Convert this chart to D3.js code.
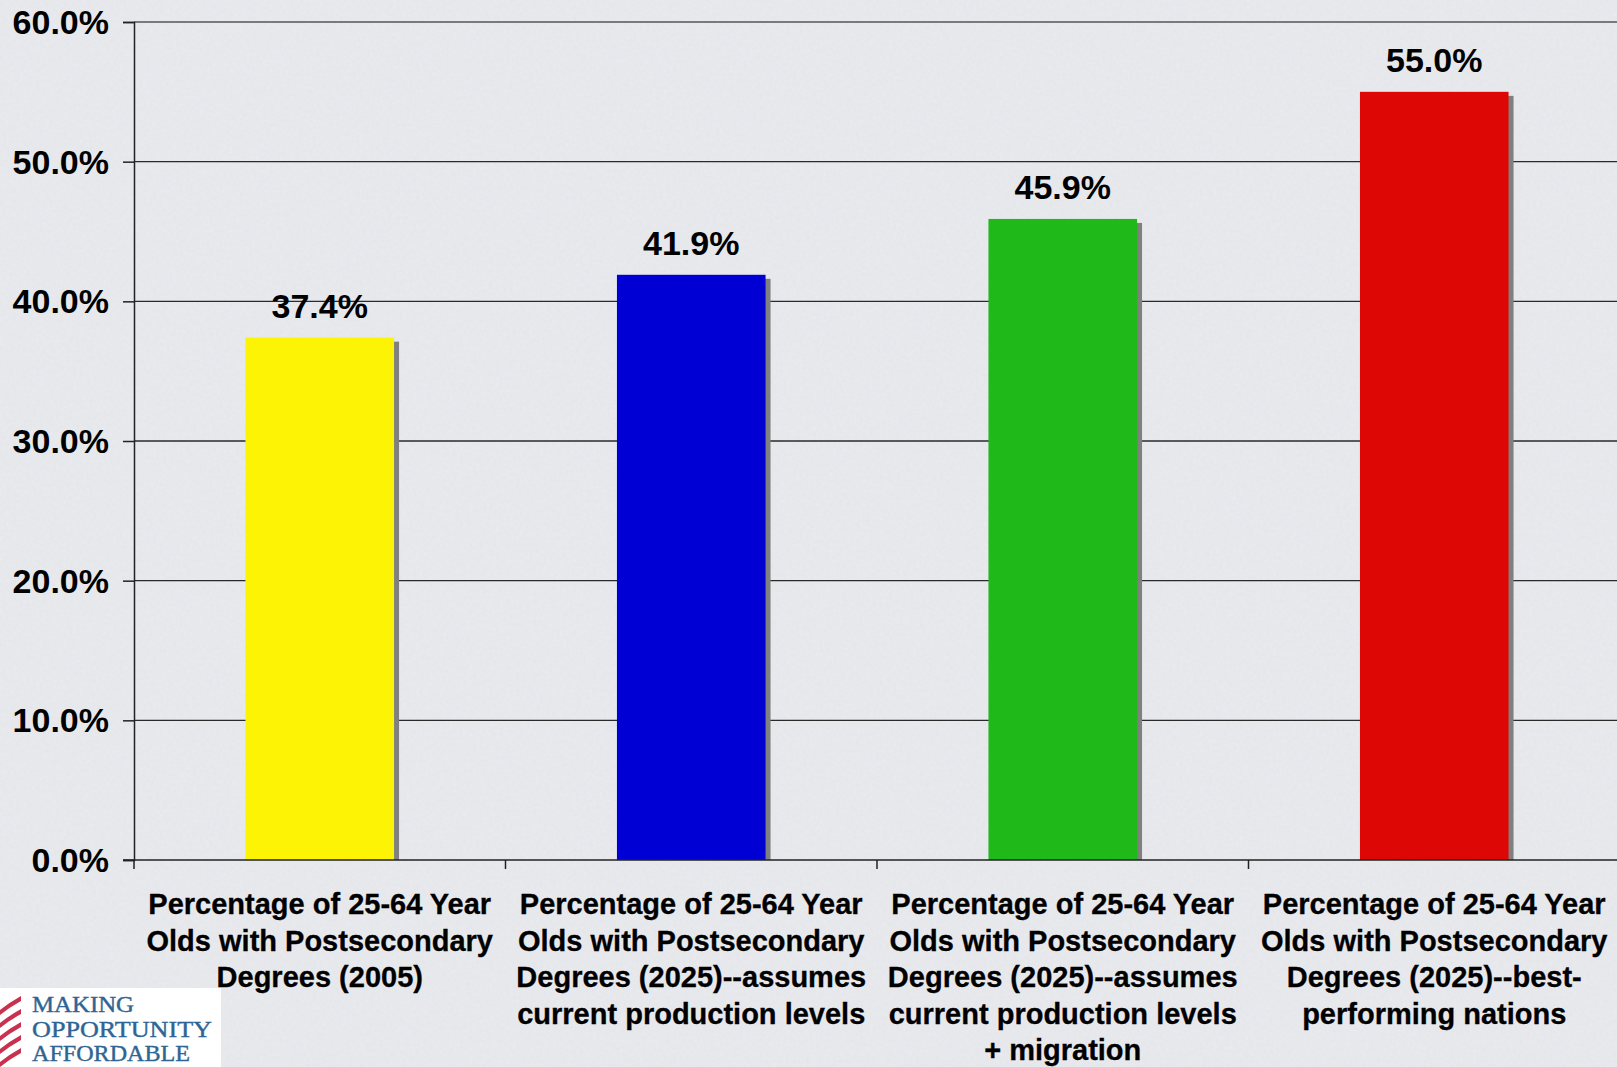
<!DOCTYPE html>
<html>
<head>
<meta charset="utf-8">
<script src="https://cdn.jsdelivr.net/npm/d3@7"></script>
<style>
  html, body { margin: 0; padding: 0; background: #e7e8ec; overflow: hidden; }
  svg { display: block; }
</style>
</head>
<body>
<svg id="chart" width="1617" height="1067"></svg>
<script>
// ---- data ----
const categories = [
  "Percentage of 25-64 Year\nOlds with Postsecondary\nDegrees (2005)",
  "Percentage of 25-64 Year\nOlds with Postsecondary\nDegrees (2025)--assumes\ncurrent production levels",
  "Percentage of 25-64 Year\nOlds with Postsecondary\nDegrees (2025)--assumes\ncurrent production levels\n+ migration",
  "Percentage of 25-64 Year\nOlds with Postsecondary\nDegrees (2025)--best-\nperforming nations"
];
const values = [37.4, 41.9, 45.9, 55.0];
const barColors = ["#fdf305", "#0000d4", "#1fb919", "#dd0805"];
const yTicks = [0, 10, 20, 30, 40, 50, 60];
const logoLines = ["MAKING", "OPPORTUNITY", "AFFORDABLE"];

// ---- layout ----
const W = 1617, H = 1067;
const svg = d3.select("#chart");
const plotLeft = 134, bandW = 371.5, plotTop = 22, plotBottom = 860;

// background texture
const defs = svg.append("defs");
const f = defs.append("filter").attr("id", "tex").attr("x", 0).attr("y", 0).attr("width", "100%").attr("height", "100%");
f.append("feTurbulence").attr("type", "fractalNoise").attr("baseFrequency", 0.3).attr("numOctaves", 3).attr("seed", 3).attr("result", "n");
f.append("feColorMatrix").attr("in", "n").attr("type", "matrix")
  .attr("values", "0 0 0 0 0.5  0 0 0 0 0.52  0 0 0 0 0.56  0 0 0 0.13 -0.02");
svg.append("rect").attr("width", W).attr("height", H).attr("fill", "#e9eaee");
svg.append("rect").attr("width", W).attr("height", H).attr("filter", "url(#tex)");

const x = d3.scaleBand().domain(d3.range(categories.length))
  .range([plotLeft, plotLeft + bandW * categories.length]).paddingInner(0).paddingOuter(0);
const y = d3.scaleLinear().domain([0, 60]).range([plotBottom, plotTop]);

// gridlines
svg.append("g").selectAll("line").data(yTicks.filter(t => t > 0)).join("line")
  .attr("x1", plotLeft).attr("x2", W)
  .attr("y1", d => y(d)).attr("y2", d => y(d))
  .attr("stroke", d => d === 60 ? "#7a7a7a" : "#2a2a2a")
  .attr("stroke-width", d => d === 60 ? 2 : 1.3);

// y axis
const yAxis = d3.axisLeft(y).tickValues(yTicks).tickSize(11).tickPadding(0).tickFormat(() => "");
const gy = svg.append("g").attr("transform", `translate(${plotLeft},0)`).call(yAxis);
gy.select(".domain").attr("stroke", "#222").attr("stroke-width", 1.5);
gy.selectAll(".tick line").attr("stroke", "#222").attr("stroke-width", 1.5);
svg.append("g").selectAll("text").data(yTicks).join("text")
  .attr("x", 109).attr("y", d => y(d) + 12)
  .attr("text-anchor", "end")
  .attr("font-family", "'Liberation Sans', Arial, sans-serif")
  .attr("font-weight", "bold").attr("font-size", 34).attr("fill", "#000")
  .text(d => d3.format(".1f")(d) + "%");

// bars with shadow
const barW = bandW * 0.4;
const bars = svg.append("g");
bars.selectAll("rect.shadow").data(values).join("rect").attr("class", "shadow")
  .attr("x", (d, i) => x(i) + (bandW - barW) / 2 + 5)
  .attr("y", d => y(d) + 4)
  .attr("width", barW)
  .attr("height", d => plotBottom - y(d) - 4)
  .attr("fill", "#808080");
bars.selectAll("rect.bar").data(values).join("rect").attr("class", "bar")
  .attr("x", (d, i) => x(i) + (bandW - barW) / 2)
  .attr("y", d => y(d))
  .attr("width", barW)
  .attr("height", d => plotBottom - y(d))
  .attr("fill", (d, i) => barColors[i]);

// x axis
const xAxisLine = svg.append("g");
xAxisLine.append("line").attr("x1", plotLeft - 11).attr("x2", W).attr("y1", plotBottom).attr("y2", plotBottom)
  .attr("stroke", "#222").attr("stroke-width", 1.5);
xAxisLine.selectAll("line.t").data(d3.range(categories.length + 1)).join("line").attr("class", "t")
  .attr("x1", i => plotLeft + i * bandW).attr("x2", i => plotLeft + i * bandW)
  .attr("y1", plotBottom).attr("y2", plotBottom + 9)
  .attr("stroke", "#222").attr("stroke-width", 1.5);

// value labels
svg.append("g").selectAll("text").data(values).join("text")
  .attr("x", (d, i) => x(i) + bandW / 2)
  .attr("y", d => y(d) - 20)
  .attr("text-anchor", "middle")
  .attr("font-family", "'Liberation Sans', Arial, sans-serif")
  .attr("font-weight", "bold").attr("font-size", 34).attr("fill", "#000")
  .text(d => d3.format(".1f")(d) + "%");

// category labels
const cl = svg.append("g").selectAll("text").data(categories).join("text")
  .attr("text-anchor", "middle")
  .attr("font-family", "'Liberation Sans', Arial, sans-serif")
  .attr("font-weight", "bold").attr("font-size", 29).attr("fill", "#000")
  .attr("stroke", "#000").attr("stroke-width", 0.3);
cl.each(function(d, i) {
  const t = d3.select(this);
  d.split("\n").forEach((ln, j) => {
    t.append("tspan").attr("x", x(i) + bandW / 2).attr("y", 914 + j * 36.5).text(ln);
  });
});

// logo
const logo = svg.append("g");
logo.append("rect").attr("x", 0).attr("y", 988).attr("width", 221).attr("height", H - 988).attr("fill", "#ffffff");
[0, 1, 2, 3, 4].forEach(k => {
  const y0 = 1004 + k * 13;
  logo.append("path")
    .attr("d", `M0,${y0 + 6} Q10,${y0 - 2} 21,${y0 - 8} L21,${y0 - 3} Q10,${y0 + 3} 0,${y0 + 11} Z`)
    .attr("fill", "#c8324f");
});
logo.selectAll("text").data(logoLines).join("text")
  .attr("x", 32).attr("y", (d, i) => 1012 + i * 24.5)
  .attr("font-family", "'Liberation Serif', 'DejaVu Serif', serif")
  .attr("font-size", 23).attr("fill", "#2f6593")
  .attr("stroke", "#2f6593").attr("stroke-width", 0.4)
  .attr("textLength", (d, i) => i === 0 ? 102 : (i === 1 ? 180 : 158))
  .attr("lengthAdjust", "spacingAndGlyphs")
  .text(d => d);
</script>
</body>
</html>
